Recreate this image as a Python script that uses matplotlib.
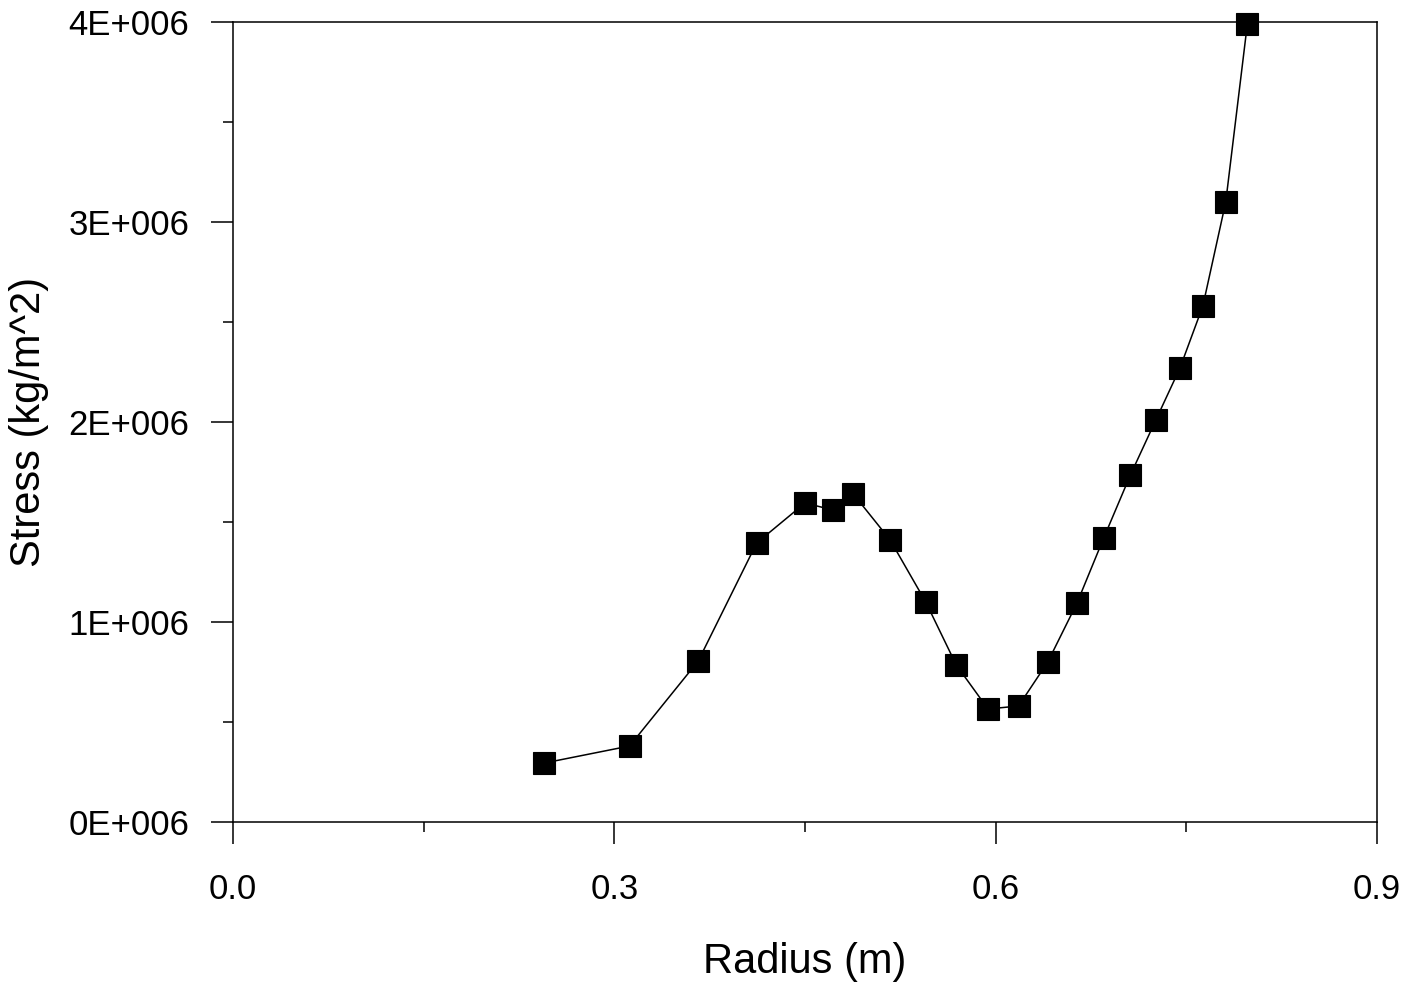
import matplotlib.pyplot as plt
from matplotlib.ticker import MultipleLocator, FuncFormatter

radius = [0.245, 0.312, 0.366, 0.412, 0.450, 0.472, 0.488, 0.517, 0.545, 0.569,
          0.594, 0.618, 0.641, 0.664, 0.685, 0.706, 0.726, 0.745, 0.763, 0.781, 0.798]
stress = [0.295e6, 0.38e6, 0.805e6, 1.395e6, 1.595e6, 1.56e6, 1.64e6, 1.41e6, 1.10e6, 0.785e6,
          0.565e6, 0.58e6, 0.80e6, 1.095e6, 1.42e6, 1.735e6, 2.01e6, 2.27e6, 2.58e6, 3.10e6, 3.99e6]

plt.rcParams['font.family'] = ['Liberation Sans', 'DejaVu Sans']

fig = plt.figure(figsize=(14.23, 9.88), dpi=100)
ax = fig.add_axes([233 / 1423, 1 - 822 / 988, (1377 - 233) / 1423, (822 - 22) / 988])

ax.plot(radius, stress, color='black', lw=1.1, marker='s', markersize=15.5,
        markerfacecolor='black', markeredgecolor='black', markeredgewidth=0.8,
        clip_on=False, zorder=3)

ax.set_xlim(0, 0.9)
ax.set_ylim(0, 4e6)
ax.xaxis.set_major_locator(MultipleLocator(0.3))
ax.xaxis.set_minor_locator(MultipleLocator(0.15))
ax.yaxis.set_major_locator(MultipleLocator(1e6))
ax.yaxis.set_minor_locator(MultipleLocator(0.5e6))
ax.xaxis.set_major_formatter(FuncFormatter(lambda v, p: "%.1f" % v))
ax.yaxis.set_major_formatter(FuncFormatter(lambda v, p: "%dE+%03d" % (round(v / 1e6), 6)))

for s in ax.spines.values():
    s.set_linewidth(1.1)

ax.tick_params(which='major', direction='out', length=15.5, width=1.1, labelsize=25)
ax.tick_params(which='minor', direction='out', length=7.5, width=1.1)
ax.tick_params(axis='x', which='major', pad=21)
ax.tick_params(axis='y', which='major', pad=16)

ax.set_xlabel("Radius (m)", fontsize=30, labelpad=26)
ax.set_ylabel("Stress (kg/m^2)", fontsize=30, labelpad=14)

fig.savefig("out.png", dpi=100)
